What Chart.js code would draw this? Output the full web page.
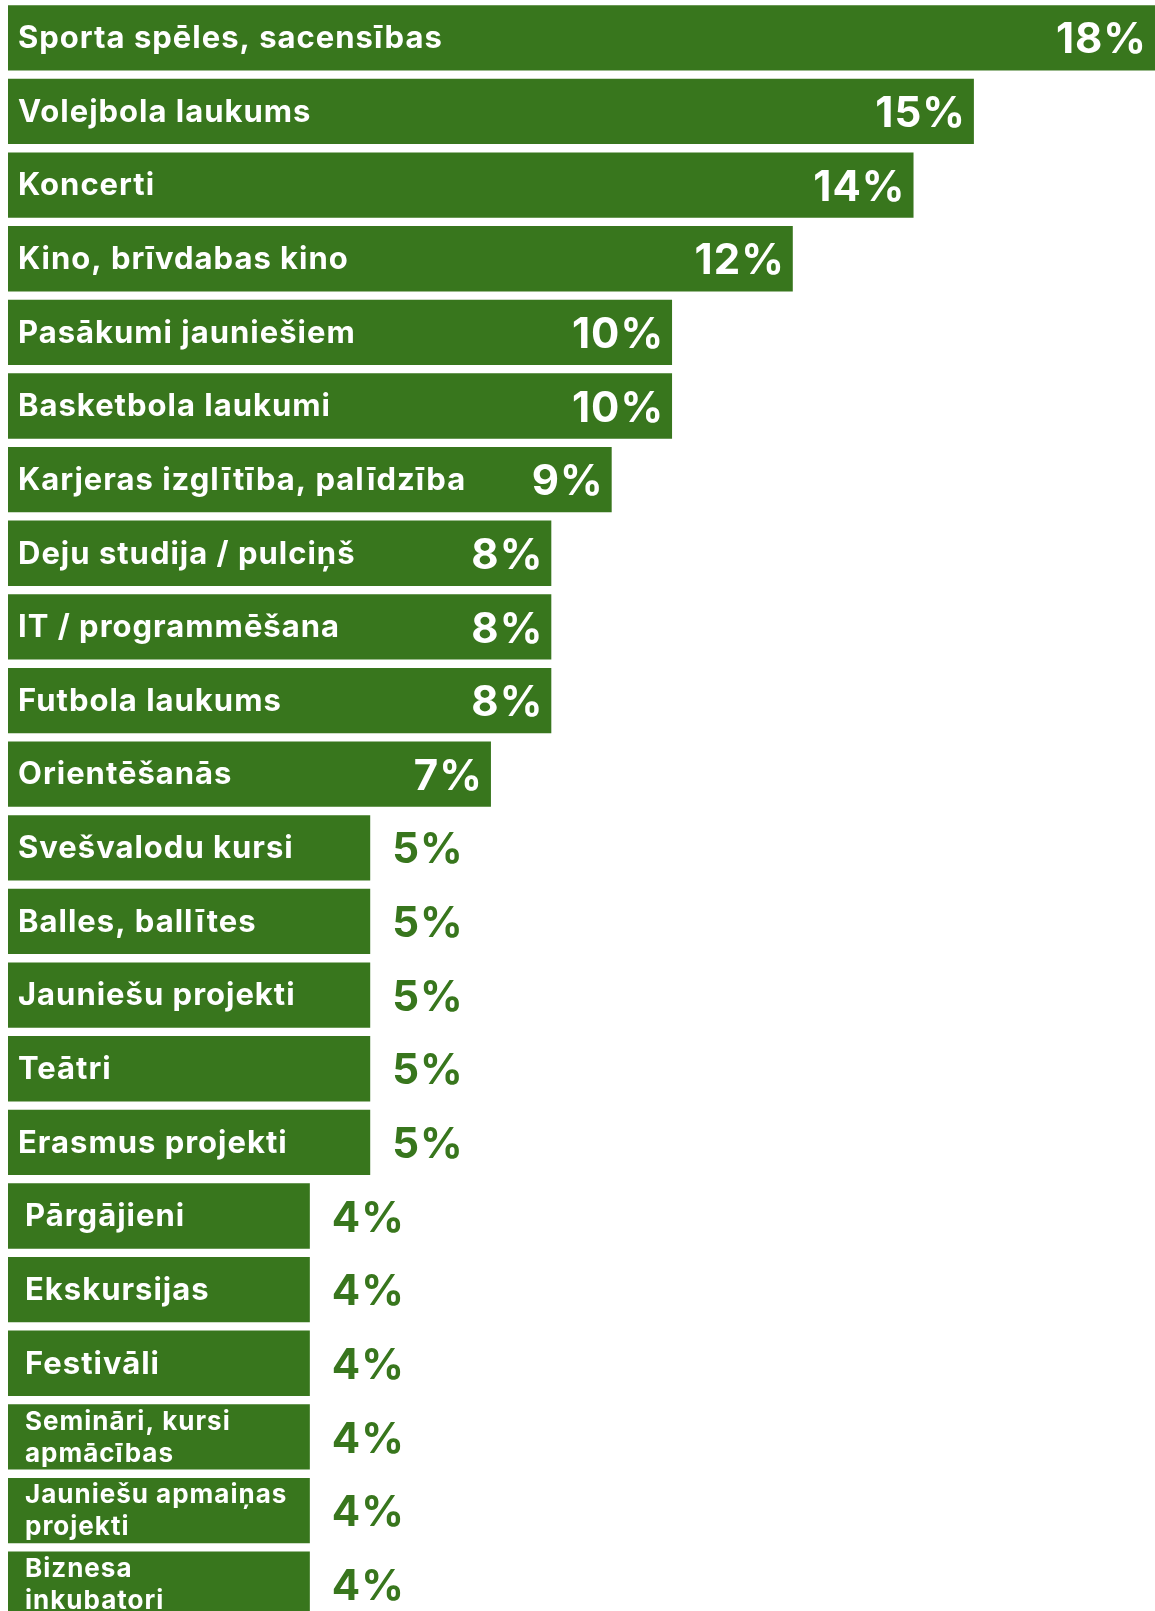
<!DOCTYPE html>
<html>
<head>
<meta charset="utf-8">
<script src="https://cdn.jsdelivr.net/npm/chart.js@4.4.1/dist/chart.umd.min.js"></script>
<style>
    html, body { margin: 0; padding: 0; background: #fff; overflow: hidden; }
    .chart-wrap { position: relative; width: 1155px; height: 1621px; }
</style>
</head>
<body>
<div class="chart-wrap"><canvas id="activityChart"></canvas></div>
<script>
const categories = [
    'Sporta spēles, sacensības',
    'Volejbola laukums',
    'Koncerti',
    'Kino, brīvdabas kino',
    'Pasākumi jauniešiem',
    'Basketbola laukumi',
    'Karjeras izglītība, palīdzība',
    'Deju studija / pulciņš',
    'IT / programmēšana',
    'Futbola laukums',
    'Orientēšanās',
    'Svešvalodu kursi',
    'Balles, ballītes',
    'Jauniešu projekti',
    'Teātri',
    'Erasmus projekti',
    'Pārgājieni',
    'Ekskursijas',
    'Festivāli',
    ['Semināri, kursi', 'apmācības'],
    ['Jauniešu apmaiņas', 'projekti'],
    ['Biznesa', 'inkubatori']
];
const shares = [18, 15, 14, 12, 10, 10, 9, 8, 8, 8, 7, 5, 5, 5, 5, 5, 4, 4, 4, 4, 4, 4];
const shareLabels = shares.map(v => v + '%');

const green = '#38761d';
const fontFamily = 'Inter, "Liberation Sans", sans-serif';

// draws the category name inside each bar and the percentage at its end
const barText = {
    id: 'barText',
    afterDatasetsDraw(chart) {
        const ctx = chart.ctx;
        const meta = chart.getDatasetMeta(0);
        ctx.save();
        ctx.textBaseline = 'middle';
        meta.data.forEach((bar, i) => {
            const name = categories[i];
            const pad = shares[i] <= 4 ? 17 : 10;
            ctx.fillStyle = '#fff';
            ctx.textAlign = 'left';
            ctx.letterSpacing = '1px';
            if (Array.isArray(name)) {
                ctx.font = `700 26px ${fontFamily}`;
                ctx.fillText(name[0], bar.base + pad, bar.y - 15);
                ctx.fillText(name[1], bar.base + pad, bar.y + 17);
            } else {
                ctx.font = `700 31px ${fontFamily}`;
                ctx.fillText(name, bar.base + pad, bar.y + 1);
            }

            ctx.font = `700 42px ${fontFamily}`;
            if (shares[i] >= 7) {
                ctx.textAlign = 'right';
                ctx.fillStyle = '#fff';
                ctx.fillText(shareLabels[i], bar.x - 8, bar.y + 3);
            } else {
                ctx.textAlign = 'left';
                ctx.fillStyle = green;
                ctx.fillText(shareLabels[i], bar.x + 22, bar.y + 3);
            }
        });
        ctx.restore();
    }
};

new Chart(document.getElementById('activityChart'), {
    type: 'bar',
    data: {
        labels: categories,
        datasets: [{
            data: shares,
            base: -1,
            backgroundColor: green,
            borderWidth: 0,
            categoryPercentage: 1,
            barPercentage: 0.887
        }]
    },
    options: {
        indexAxis: 'y',
        responsive: true,
        maintainAspectRatio: false,
        animation: false,
        layout: { padding: { left: 8, right: 0, top: 1, bottom: 0 } },
        scales: {
            x: { display: false, min: -1, max: 18 },
            y: { display: false }
        },
        plugins: {
            legend: { display: false },
            tooltip: { enabled: false }
        }
    },
    plugins: [barText]
});
</script>
</body>
</html>
